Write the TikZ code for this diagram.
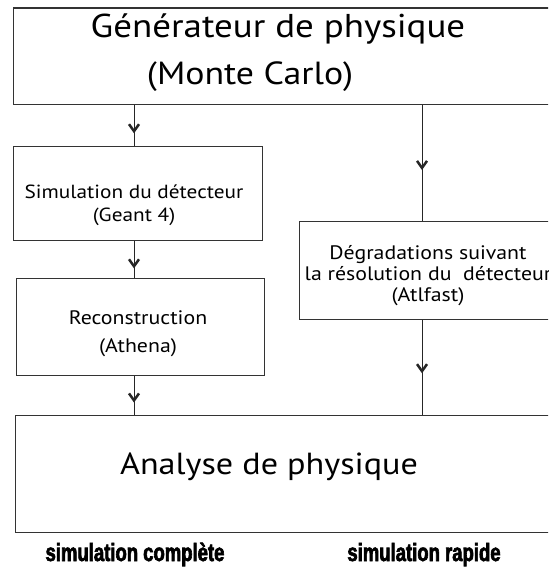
\documentclass[tikz,border=0pt]{standalone}
\usepackage{fontspec}
\setmainfont[FakeStretch=1.12]{PT Sans}
\newfontfamily\labelfont[FakeStretch=0.74,FakeBold=2.5]{Liberation Sans Bold}
\usetikzlibrary{arrows.meta,decorations.markings}

\begin{document}
\begin{tikzpicture}[x=1pt, y=-1pt,
  box/.style={draw=black!80, line width=1.2pt, inner sep=0pt, anchor=north west},
  txt/.style={align=center, inner sep=0pt},
  big/.style={txt, font=\fontsize{33}{38}\selectfont, anchor=base},
  small/.style={txt, font=\fontsize{19.5}{21}\selectfont},
  flow/.style={draw=black!85, line width=0.9pt, postaction={decorate},
    decoration={markings, mark=at position #1 with {\arrow{Straight Barb[length=7pt,width=10pt,line width=2.5pt]}}}},
  caption/.style={font=\labelfont\fontsize{25}{25}\selectfont, anchor=base},
]
\useasboundingbox (0,0) rectangle (548,569);
\clip (0,0) rectangle (548,569);

% boites
\node[box, minimum width=560pt, minimum height=96.5pt] (gen) at (12.5,7.5) {};
\node[box, minimum width=249pt, minimum height=94pt] (sim) at (13,146) {};
\node[box, minimum width=248pt, minimum height=97pt] (reco) at (16,278) {};
\node[box, minimum width=270pt, minimum height=98pt] (deg) at (299,221) {};
\node[box, minimum width=560pt, minimum height=117pt] (ana) at (15,415) {};

% textes
\node[big] (gentxt) at (278,37.5) {Générateur de physique};
\node[big, font=\fontsize{32}{38}\selectfont] (mctxt) at (250,85) {(Monte Carlo)};
\node[small, font=\fontsize{19}{23}\selectfont] (simtxt) at (134,205) {Simulation du détecteur\\(Geant 4)};
\node[small, font=\fontsize{19.5}{28}\selectfont] (recotxt) at (138,334) {Reconstruction\\(Athena)};
\node[small] (degtxt) at (428,276) {Dégradations suivant\\la résolution du\ \ détecteur\\(Atlfast)};
\node[big, font=\fontsize{30.5}{30.5}\selectfont] (anatxt) at (269,474) {Analyse de physique};

\node[caption] (complete) at (135,561) {simulation complète};
\node[caption] (rapide) at (424,561) {simulation rapide};

% fleches
\coordinate (left) at (134,0);
\coordinate (right) at (422,0);
\draw[flow=0.69] (gen.south -| left) -- (sim.north -| left);
\draw[flow=0.74] (sim.south -| left) -- (reco.north -| left);
\draw[flow=0.68] (reco.south -| left) -- (ana.north -| left);
\draw[flow=0.56] (gen.south -| right) -- (deg.north -| right);
\draw[flow=0.56] (deg.south -| right) -- (ana.north -| right);
\end{tikzpicture}
\end{document}
